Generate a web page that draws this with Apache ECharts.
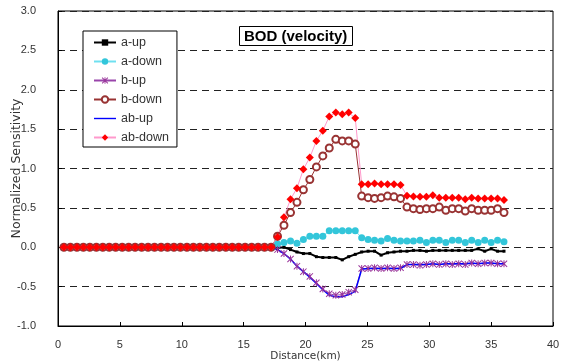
<!DOCTYPE html>
<html><head><meta charset="utf-8">
<script src="https://cdn.jsdelivr.net/npm/echarts/dist/echarts.min.js"></script>
<style>html,body{margin:0;padding:0;background:#fff}#c{width:585px;height:363px}</style>
</head><body><div id="c"></div>
<script>
const distance = [0.48,1.00,1.53,2.05,2.57,3.10,3.62,4.14,4.66,5.19,5.71,6.23,6.76,7.28,7.80,8.33,8.85,9.37,9.89,10.42,10.94,11.46,11.99,12.51,13.03,13.56,14.08,14.60,15.12,15.65,16.17,16.69,
17.22,17.74,18.26,18.79,19.31,19.83,20.35,20.88,21.40,21.92,22.45,22.97,23.49,24.02,24.54,25.06,25.58,26.11,26.63,27.15,27.68,28.20,28.72,29.25,29.77,30.29,30.81,31.34,31.86,32.38,32.91,33.43,33.95,34.48,35.00,35.52,36.04];

const aUp = [0,0,0,0,0,0,0,0,0,0,0,0,0,0,0,0,0,0,0,0,0,0,0,0,0,0,0,0,0,0,0,0,
0.00,-0.01,0.00,-0.03,-0.06,-0.08,-0.08,-0.12,-0.13,-0.13,-0.13,-0.16,-0.12,-0.09,-0.06,-0.05,-0.05,-0.10,-0.07,-0.06,-0.05,-0.05,-0.04,-0.04,-0.05,-0.04,-0.04,-0.04,-0.04,-0.04,-0.04,-0.04,-0.02,-0.05,-0.02,-0.05,-0.05];

const aDown = [0,0,0,0,0,0,0,0,0,0,0,0,0,0,0,0,0,0,0,0,0,0,0,0,0,0,0,0,0,0,0,0,
0.00,0.04,0.06,0.08,0.05,0.10,0.14,0.14,0.14,0.21,0.21,0.21,0.21,0.21,0.12,0.10,0.09,0.08,0.11,0.09,0.08,0.08,0.08,0.09,0.06,0.09,0.09,0.06,0.09,0.09,0.06,0.09,0.06,0.09,0.06,0.09,0.07];

const bUp = [0,0,0,0,0,0,0,0,0,0,0,0,0,0,0,0,0,0,0,0,0,0,0,0,0,0,0,0,0,0,0,0,
0.00,-0.03,-0.08,-0.15,-0.24,-0.31,-0.37,-0.45,-0.53,-0.59,-0.61,-0.60,-0.57,-0.54,-0.27,-0.27,-0.26,-0.27,-0.26,-0.27,-0.26,-0.22,-0.22,-0.23,-0.22,-0.21,-0.22,-0.21,-0.22,-0.21,-0.22,-0.20,-0.21,-0.20,-0.20,-0.21,-0.21];

const bDown = [0,0,0,0,0,0,0,0,0,0,0,0,0,0,0,0,0,0,0,0,0,0,0,0,0,0,0,0,0,0,0,0,
0.00,0.14,0.28,0.44,0.57,0.73,0.86,1.02,1.16,1.26,1.37,1.35,1.35,1.31,0.65,0.63,0.62,0.63,0.65,0.64,0.62,0.51,0.49,0.48,0.49,0.49,0.51,0.47,0.49,0.49,0.46,0.49,0.47,0.47,0.47,0.49,0.44];

const abUp = [0,0,0,0,0,0,0,0,0,0,0,0,0,0,0,0,0,0,0,0,0,0,0,0,0,0,0,0,0,0,0,0,
0.00,-0.03,-0.08,-0.15,-0.24,-0.31,-0.38,-0.46,-0.54,-0.61,-0.63,-0.63,-0.60,-0.56,-0.28,-0.27,-0.27,-0.27,-0.27,-0.27,-0.27,-0.22,-0.22,-0.22,-0.22,-0.21,-0.22,-0.21,-0.21,-0.21,-0.21,-0.20,-0.21,-0.20,-0.20,-0.21,-0.21];

const abDown = [0,0,0,0,0,0,0,0,0,0,0,0,0,0,0,0,0,0,0,0,0,0,0,0,0,0,0,0,0,0,0,0,
0.00,0.13,0.38,0.61,0.75,0.99,1.14,1.35,1.48,1.66,1.71,1.69,1.71,1.64,0.80,0.80,0.81,0.80,0.80,0.80,0.79,0.655,0.645,0.64,0.64,0.66,0.63,0.63,0.63,0.63,0.61,0.63,0.62,0.62,0.62,0.62,0.60];

const seriesNames = ['a-up','a-down','b-up','b-down','ab-up','ab-down'];
const xTicks = {min:0, max:40, interval:5};
const yTicks = {min:-1, max:3, interval:0.5};

const FONT = 'Liberation Sans';
const WIDE = 'DejaVu Sans';
const ASTERISK = 'path://M4.3,0L5.7,0L5.7,10L4.3,10Z M0,1L1,0L10,9L9,10Z M9,0L10,1L1,10L0,9Z';
const pair = v => distance.map((d, i) => [d, v[i]]);
const chart = echarts.init(document.getElementById('c'), null, {renderer:'canvas'});

const option = {
  animation:false,
  backgroundColor:'#fff',
  title:{
    text:'BOD (velocity)', left:239, top:26, padding:[3,5,2,5],
    borderColor:'#000', borderWidth:1, backgroundColor:'#fff',
    textStyle:{fontSize:15, fontWeight:'bold', color:'#000', fontFamily:FONT}
  },
  grid:{left:58, right:32, top:11, bottom:37, show:true, borderColor:'#000', borderWidth:1,
    backgroundColor:'transparent', containLabel:false, outerBoundsMode:'none'},
  legend:{
    orient:'vertical', left:83, top:31, padding:[5,8,3,10],
    borderColor:'#000', borderWidth:1, backgroundColor:'#fff',
    itemWidth:22, itemHeight:8, itemGap:6,
    textStyle:{fontSize:12.5, color:'#333', fontFamily:FONT},
    data:[
      'a-up','a-down','b-up','b-down',
      {name:'ab-up', icon:'path://M0,0L22,0L22,1.4L0,1.4Z'},
      'ab-down'
    ]
  },
  xAxis:{
    type:'value', min:xTicks.min, max:xTicks.max, interval:xTicks.interval,
    axisLine:{onZero:false, lineStyle:{color:'#000', width:1}},
    axisTick:{inside:true, length:4, lineStyle:{color:'#000'}},
    axisLabel:{color:'#333', fontSize:11, margin:13, fontFamily:FONT},
    splitLine:{show:false},
    name:'Distance(km)', nameLocation:'middle', nameGap:25, nameMoveOverlap:false,
    nameTextStyle:{color:'#333', fontSize:10.5, fontFamily:WIDE}
  },
  yAxis:{
    type:'value', min:yTicks.min, max:yTicks.max, interval:yTicks.interval,
    axisLine:{show:true, lineStyle:{color:'#000', width:1}},
    axisTick:{show:true, inside:true, length:4, lineStyle:{color:'#000'}},
    axisLabel:{color:'#333', fontSize:11, margin:22, fontFamily:FONT, formatter:v=>v.toFixed(1)},
    splitLine:{show:true, lineStyle:{type:[7,5], color:'#222', width:1}},
    name:'Normalized Sensitivity', nameLocation:'middle', nameGap:35, nameMoveOverlap:false,
    nameTextStyle:{color:'#333', fontSize:12.5, fontFamily:WIDE}
  },
  series:[
    {name:'a-up', type:'line', data:pair(aUp), symbol:'rect', symbolSize:3,
      itemStyle:{color:'#000'}, lineStyle:{color:'#000', width:2}, emphasis:{disabled:true}},
    {name:'a-down', type:'line', data:pair(aDown), symbol:'circle', symbolSize:7,
      itemStyle:{color:'#33C6DA'}, lineStyle:{color:'#6FE0F0', width:1}, emphasis:{disabled:true}},
    {name:'b-up', type:'line', data:pair(bUp), symbol:ASTERISK, symbolSize:7,
      itemStyle:{color:'#993399', borderWidth:0}, lineStyle:{color:'#9944AA', width:1}, emphasis:{disabled:true}},
    {name:'b-down', type:'line', data:pair(bDown), symbol:'emptyCircle', symbolSize:7,
      itemStyle:{color:'#993333', borderWidth:1}, lineStyle:{color:'#993333', width:1}, emphasis:{disabled:true}},
    {name:'ab-up', type:'line', data:pair(abUp), symbol:'none',
      itemStyle:{color:'#0000FF'}, lineStyle:{color:'#0000FF', width:1.5}, emphasis:{disabled:true}},
    {name:'ab-down', type:'line', data:pair(abDown), symbol:'diamond', symbolSize:8,
      itemStyle:{color:'#FF0000'}, lineStyle:{color:'#FF99CC', width:1}, emphasis:{disabled:true}}
  ]
};
chart.setOption(option);
</script>
</body></html>
